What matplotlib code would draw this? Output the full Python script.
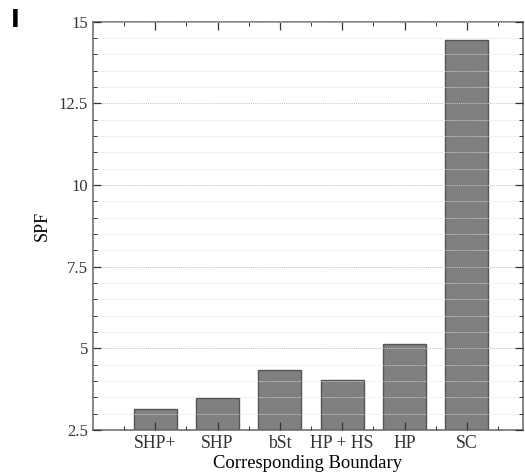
import matplotlib.pyplot as plt
from matplotlib.ticker import MultipleLocator, FixedLocator

categories = ["SHP+", "SHP", "bSt", "HP + HS", "HP", "SC"]
spf = [3.14, 3.49, 4.32, 4.03, 5.12, 14.43]
yticks = [2.5, 5, 7.5, 10, 12.5, 15]
ytick_labels = ["2.5", "5", "7.5", "10", "12.5", "15"]

plt.rcParams["font.family"] = ["Liberation Serif", "DejaVu Serif"]

fig = plt.figure(figsize=(5.25, 4.74), dpi=100)
ax = fig.add_axes([0.177, 0.093, 0.819, 0.861])

pos = list(range(1, len(categories) + 1))
ax.bar(pos, spf, width=0.69, bottom=0, color="#808080",
       edgecolor="#555555", linewidth=1.0, zorder=1)

ax.set_xlim(0, 6.9)
ax.set_ylim(2.5, 15)
ax.set_xticks(pos)
ax.set_xticklabels(categories)
ax.xaxis.set_minor_locator(FixedLocator([p - 0.5 for p in pos] + [6.5]))
ax.set_yticks(yticks)
ax.set_yticklabels(ytick_labels)
ax.yaxis.set_minor_locator(MultipleLocator(0.5))

# grid sits on top of the bars like in the original
ax.set_axisbelow(False)
ax.grid(True, axis="y", which="major", color="#c4c4c4", linestyle=(0, (1, 1)), linewidth=0.7, zorder=3)
ax.grid(True, axis="y", which="minor", color="#dedede", linestyle=(0, (1, 1)), linewidth=0.6, zorder=3)

ax.tick_params(which="both", direction="in", top=True, right=True, colors="#333333")
ax.tick_params(axis="y", labelsize=12)
ax.tick_params(axis="x", labelsize=12.8)
ax.tick_params(which="major", length=6, width=0.9)
ax.tick_params(which="minor", length=3, width=0.7)
for s in ax.spines.values():
    s.set_color("#666666")
    s.set_linewidth(1.1)

ax.set_xlabel("Corresponding Boundary", fontsize=13.4, labelpad=2)
ax.set_ylabel("SPF", fontsize=13, labelpad=6)

fig.text(0.021, 0.958, "I", fontsize=17, fontweight="bold", family="DejaVu Sans", va="center")

fig.savefig("out.png", dpi=100)
